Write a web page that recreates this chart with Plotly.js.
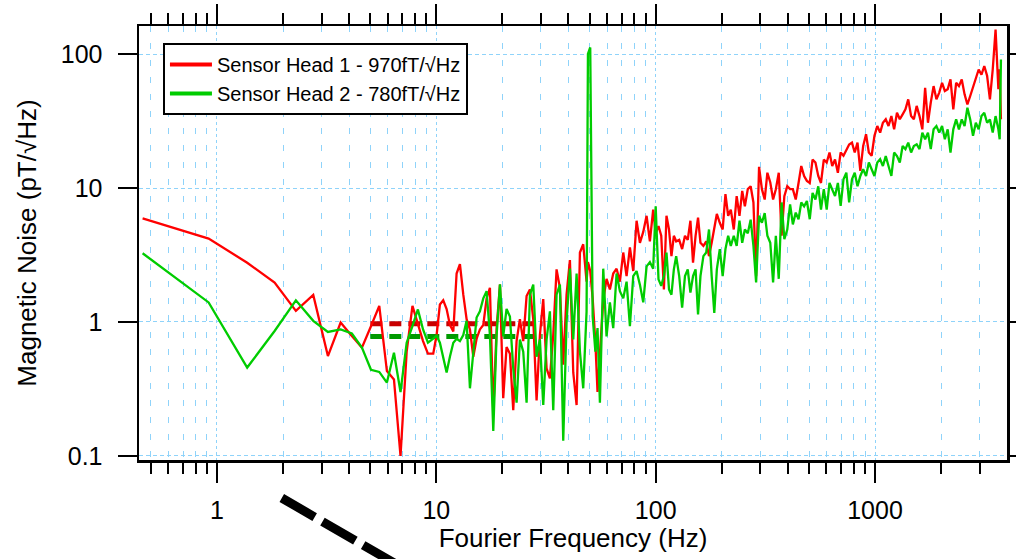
<!DOCTYPE html>
<html>
<head>
<meta charset="utf-8">
<script src="https://cdn.plot.ly/plotly-3.0.1.min.js"></script>
<style>
html,body{margin:0;padding:0;background:#fff;}
#chart{width:1016px;height:559px;}
</style>
</head>
<body>
<div id="chart"></div>
<script>
// ---- Data ----
// Low-frequency bins (Hz)
const freqLow = [0.458, 0.916, 1.373, 1.831, 2.289, 2.747, 3.204, 3.662, 4.120, 4.578,
                 5.035, 5.493, 5.951, 6.409, 6.866, 7.324, 7.782, 8.240, 8.697, 9.155];
const head1Low = [5.94, 4.19, 2.77, 1.97, 1.21, 1.59, 0.557, 0.99, 0.787, 0.644,
                  0.93, 1.32, 0.43, 0.373, 0.10, 0.60, 1.32, 0.98, 0.72, 0.58];
const head2Low = [3.26, 1.40, 0.457, 0.857, 1.45, 1.02, 0.842, 0.88, 0.82, 0.644,
                  0.44, 0.424, 0.353, 0.59, 0.30, 0.70, 0.93, 1.24, 0.88, 0.70];

// Mid band (Hz)
const freqMid = [9.68, 10.03, 10.38, 10.75, 11.14, 11.53, 11.95, 12.37, 12.81, 13.27,
                 13.74, 14.23, 14.74, 15.26, 15.80, 16.37, 16.95, 17.55, 18.18, 18.83,
                 19.50, 20.18, 20.90, 21.65, 22.42, 23.22, 24.04, 24.90, 25.79, 26.71,
                 27.66, 28.64, 29.66, 30.72, 31.81, 32.94, 34.12, 35.33, 36.59, 37.89,
                 39.24, 40.64, 42.09, 43.59, 45.14, 46.74, 48.41, 49.1, 50.3, 51.6,
                 53.1, 54.3, 55.68, 57.67, 59.70, 61.83, 64.04, 66.32, 68.68, 71.13,
                 73.67, 76.29, 79.01, 81.83, 84.74, 87.76, 90.89, 94.1, 97.4, 100.0];
const head1Mid = [0.58, 0.80, 1.35, 1.45, 1.25, 0.95, 0.85, 2.3, 2.7, 1.6,
                  1.05, 0.88, 0.55, 0.75, 0.88, 0.95, 1.5, 1.8, 0.21, 0.9,
                  1.9, 0.27, 0.65, 0.58, 0.22, 0.72, 1.05, 0.72, 1.56, 1.75,
                  1.05, 0.26, 0.8, 1.48, 0.45, 0.38, 0.8, 2.47, 1.8, 0.48,
                  1.6, 2.9, 0.42, 0.24, 3.3, 3.8, 2.0, 2.8, 2.4, 1.5,
                  0.7, 0.30, 0.55, 1.45, 2.1, 1.75, 2.3, 2.5, 2.0, 3.3,
                  2.2, 3.6, 2.4, 5.7, 3.9, 4.7, 6.2, 4.0, 6.9, 4.6];
const head2Mid = [0.75, 0.79, 0.70, 0.55, 0.42, 0.55, 0.70, 0.75, 0.72, 0.80,
                  1.02, 0.32, 0.6, 1.08, 1.2, 1.5, 1.7, 0.8, 0.154, 0.8,
                  1.91, 0.78, 1.25, 1.1, 0.45, 0.25, 0.74, 0.6, 0.25, 1.6,
                  1.9, 0.55, 0.74, 0.24, 0.74, 1.2, 0.22, 1.6, 1.9, 0.13,
                  1.0, 2.5, 0.74, 2.3, 0.6, 0.32, 1.2, 100, 112, 1.1,
                  0.6, 0.9, 0.25, 2.5, 0.78, 1.4, 0.9, 2.3, 1.7, 1.5,
                  2.0, 0.93, 2.2, 2.4, 1.9, 1.4, 2.6, 2.8, 2.5, 7.3];

// High band (Hz)
const freqHigh = [103, 106, 109, 112, 115, 118, 121, 124, 128, 132,
                  136, 140, 144, 148, 152, 156, 160, 165, 170, 175,
                  180, 185, 190, 196, 202, 208, 214, 220, 227, 234,
                  241, 248, 255, 263, 271, 279, 287, 296, 305, 314,
                  323, 333, 343, 353, 364, 375, 386, 398, 410, 422,
                  435, 448, 461, 475, 489, 504, 519, 535, 551, 567,
                  584, 602, 620, 638, 657, 677, 697, 718, 740, 762,
                  785, 808, 832, 857, 883, 910, 937, 965, 994, 1024,
                  1055, 1086, 1119, 1152, 1187, 1222, 1259, 1297, 1336, 1376,
                  1417, 1460, 1503, 1548, 1595, 1643, 1692, 1743, 1795, 1849,
                  1905, 1962, 2021, 2081, 2144, 2208, 2274, 2343, 2413, 2485,
                  2560, 2637, 2716, 2797, 2881, 2968, 3057, 3148, 3243, 3340,
                  3440, 3544, 3650, 3700, 3750];
const head1High = [5.2, 4.4, 1.75, 6.2, 4.9, 3.1, 4.4, 4.0, 4.1, 3.5,
                   4.4, 4.1, 5.7, 2.77, 4.4, 6.0, 3.9, 3.7, 4.0, 3.1,
                   3.9, 4.9, 6.4, 5.5, 4.9, 9.0, 6.2, 6.9, 4.9, 8.7,
                   6.2, 9.5, 7.3, 9.8, 10.3, 7.8, 2.2, 14.4, 9.8, 8.2,
                   13, 11, 8.2, 9.8, 13, 4.4, 8.7, 10.3, 9.8, 9.8,
                   8.2, 10.9, 14.6, 12.3, 11.3, 10.9, 16.3, 15.5, 12.3, 10.9,
                   16.3, 15.5, 18.4, 14.6, 16.3, 13, 18.4, 17.4, 19.5, 21.1,
                   21.8, 18.4, 21.8, 13.4, 20.6, 25.2, 18.4, 17.4, 24.5, 29.0,
                   25.9, 30.7, 32.6, 29.0, 34.4, 27.4, 36.4, 32.6, 35.4, 38.6,
                   45.9, 34.4, 32.6, 41, 34.4, 27.4, 56, 30.7, 43.4, 57.6,
                   45.9, 51.5, 61, 53, 54.6, 64.6, 38.6, 61, 57.6, 64.6,
                   50, 42, 48.6, 56, 64.6, 76.6, 70, 81.4, 68.7, 45.9,
                   76.6, 152, 54.6, 77, 32.6];
const head2High = [2.08, 1.86, 2.2, 3.3, 1.75, 1.6, 2.47, 3.1, 2.2, 1.28,
                   2.2, 2.47, 1.66, 2.2, 2.47, 1.14, 2.2, 3.1, 3.3, 4.9,
                   2.2, 1.17, 2.47, 3.5, 2.2, 3.5, 4.4, 3.7, 4.4, 3.7,
                   5.7, 3.9, 4.9, 4.6, 5.8, 3.7, 1.97, 6.2, 5.5, 6.5,
                   4.4, 3.9, 1.97, 4.4, 2.1, 7.8, 4.15, 4.9, 7.55, 5.35,
                   6.55, 5.85, 7.8, 7.3, 8.0, 5.85, 9.2, 8.2, 10.3, 6.9,
                   9.8, 6.9, 10.9, 9.8, 8.7, 10.9, 7.35, 11.6, 13, 7.8,
                   11.6, 13, 10.3, 12.3, 13.8, 12.3, 15.5, 13.8, 12.3, 15.5,
                   16.4, 14.6, 17.3, 14.6, 12.3, 18.4, 17.3, 15.5, 20.6, 19.5,
                   21.8, 18.4, 20.6, 21.2, 19.5, 25.9, 23.1, 25.9, 19.5, 27.4,
                   29, 25.9, 29, 23.1, 27.4, 18.4, 27.4, 32.5, 27.4, 32.5,
                   29, 39.7, 32.5, 24.5, 30.7, 27.4, 34.4, 36.4, 30.7, 32.5,
                   25.9, 34.4, 27.4, 23.1, 91];

// Average noise levels (5-30 Hz band)
const avgBandHz = [5, 30.5];
const head1Avg = [0.97, 0.97];
const head2Avg = [0.78, 0.78];

const seriesNames = ['Sensor Head 1 - 970fT/\u221AHz', 'Sensor Head 2 - 780fT/\u221AHz'];

// Ticks
const xMajorVals = [1, 10, 100, 1000];
const xMajorText = ['1', '10', '100', '1000'];
const xMinorVals = [0.5, 0.6, 0.7, 0.8, 0.9, 2, 3, 4, 5, 6, 7, 8, 9,
                    20, 30, 40, 50, 60, 70, 80, 90, 200, 300, 400, 500, 600, 700, 800, 900,
                    2000, 3000];
const yMajorVals = [0.1, 1, 10, 100];
const yMajorText = ['0.1', '1', '10', '100'];

// ---- Build ----
const freq = freqLow.concat(freqMid, freqHigh);
const head1 = head1Low.concat(head1Mid, head1High);
const head2 = head2Low.concat(head2Mid, head2High);

const RED = '#ff0000', GREEN = '#00cc00';
const GRID = '#8fd3fa';
const FONT = 'Liberation Sans, Arial, Helvetica, sans-serif';

const traces = [
  {x: avgBandHz, y: head1Avg, mode: 'lines', line: {color: '#c80000', width: 5, dash: '12px,7px'}, showlegend: false, hoverinfo: 'skip'},
  {x: avgBandHz, y: head2Avg, mode: 'lines', line: {color: '#009a00', width: 5, dash: '12px,7px'}, showlegend: false, hoverinfo: 'skip'},
  {x: freq, y: head1, mode: 'lines', line: {color: RED, width: 2.3}, showlegend: false},
  {x: freq, y: head2, mode: 'lines', line: {color: GREEN, width: 2.3}, showlegend: false},
  {x: [null], y: [null], mode: 'lines', name: seriesNames[0], line: {color: RED, width: 4}},
  {x: [null], y: [null], mode: 'lines', name: seriesNames[1], line: {color: GREEN, width: 4}}
];

const layout = {
  width: 1016, height: 559,
  margin: {l: 139, r: 9, t: 26, b: 99, pad: 0},
  paper_bgcolor: '#fff', plot_bgcolor: '#fff',
  font: {family: FONT, color: '#000'},
  showlegend: true,
  legend: {x: 0.0276, y: 0.961, xanchor: 'left', yanchor: 'top',
           bgcolor: '#fff', bordercolor: '#000', borderwidth: 2,
           font: {family: FONT, size: 20, color: '#000'}, tracegroupgap: 0,
           itemwidth: 42},
  xaxis: {
    type: 'log', range: [Math.log10(0.441), Math.log10(3996)],
    tickmode: 'array', tickvals: xMajorVals, ticktext: xMajorText,
    ticks: 'outside', ticklen: 20, tickwidth: 2, tickcolor: '#000',
    showline: true, linecolor: '#000', linewidth: 2.5, mirror: 'ticks',
    showgrid: true, gridcolor: GRID, gridwidth: 1, griddash: '3px,3px',
    zeroline: false, tickfont: {family: FONT, size: 25, color: '#000'},
    ticklabelstandoff: 6,
    automargin: false,
    title: {text: 'Fourier Frequency (Hz)', font: {family: FONT, size: 26, color: '#000'}, standoff: 6},
    minor: {tickmode: 'array', tickvals: xMinorVals, ticks: 'outside', ticklen: 11, tickwidth: 2,
            tickcolor: '#000', showgrid: true, gridcolor: GRID, gridwidth: 1, griddash: '6px,11px'}
  },
  yaxis: {
    type: 'log', range: [-1.03, 2.209],
    tickmode: 'array', tickvals: yMajorVals, ticktext: yMajorText,
    ticks: 'outside', ticklen: 19, tickwidth: 2, tickcolor: '#000',
    showline: true, linecolor: '#000', linewidth: 2.5, mirror: 'ticks',
    showgrid: true, gridcolor: GRID, gridwidth: 1, griddash: '4px,3px',
    zeroline: false, tickfont: {family: FONT, size: 25, color: '#000'},
    ticklabelstandoff: 10,
    automargin: false,
    title: {text: 'Magnetic Noise (pT/\u221AHz)', font: {family: FONT, size: 26, color: '#000'}, standoff: 17}
  },
  shapes: [
    {type: 'line', xref: 'paper', yref: 'paper', x0: 0.1645, y0: -0.0876, x1: 0.3006, y1: -0.245,
     line: {color: '#000', width: 9, dash: '38px,9px'}, layer: 'above'}
  ]
};

Plotly.newPlot('chart', traces, layout, {displayModeBar: false, staticPlot: true});
</script>
</body>
</html>
